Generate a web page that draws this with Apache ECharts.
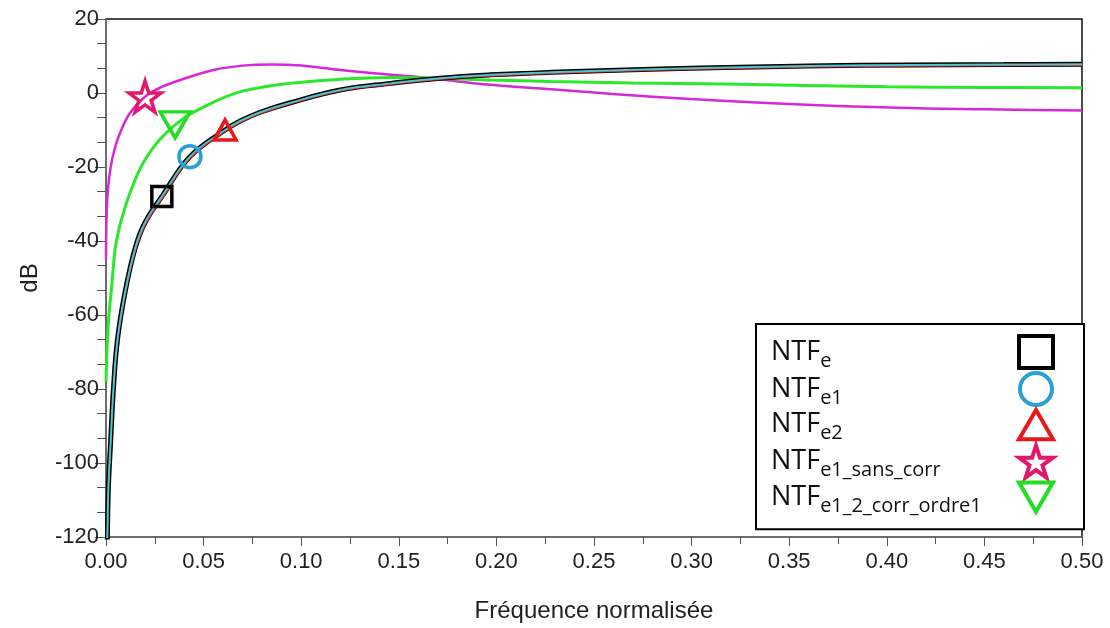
<!DOCTYPE html>
<html><head><meta charset="utf-8">
<script src="https://cdn.jsdelivr.net/npm/echarts@6/dist/echarts.min.js"></script>
<style>html,body{margin:0;padding:0;background:#fff}#c{width:1110px;height:628px}</style>
</head><body><div id="c"></div>
<script>
// ---- data ----
var xTickLabels = ['0.00','0.05','0.10','0.15','0.20','0.25','0.30','0.35','0.40','0.45','0.50'];
var yTickLabels = ['-120','-100','-80','-60','-40','-20','0','20'];

var freqE = [0, 0.0007, 0.0012, 0.0024, 0.0038, 0.0058, 0.0097, 0.0149, 0.020, 0.0286, 0.043, 0.061, 0.069, 0.079, 0.094, 0.12, 0.146, 0.171, 0.197, 0.228, 0.27, 0.317, 0.36, 0.412, 0.46, 0.5];
var dbE   = [-135, -120, -107, -94, -80, -67, -54, -42, -35, -28, -17.2, -10, -7.5, -5.2, -2.7, 0.8, 2.6, 4.0, 4.9, 5.6, 6.3, 6.9, 7.3, 7.6, 7.7, 7.8];
var dbE1  = [-135, -120, -107, -94, -80, -67, -54, -42, -35, -28, -17.2, -10, -7.5, -5.2, -2.7, 0.8, 2.6, 4.0, 4.9, 5.6, 6.3, 6.9, 7.3, 7.6, 7.7, 7.8];
var dbE2  = [-136, -121, -108, -95, -81, -68, -55, -43, -35.8, -28.7, -17.7, -10.4, -7.9, -5.6, -3.0, 0.5, 2.3, 3.7, 4.6, 5.3, 6.0, 6.6, 7.0, 7.3, 7.4, 7.5];

var freqS = [0, 0.0003, 0.001, 0.0024, 0.0045, 0.0072, 0.0123, 0.020, 0.028, 0.038, 0.055, 0.070, 0.085, 0.100, 0.120, 0.146, 0.159, 0.171, 0.197, 0.228, 0.28, 0.35, 0.405, 0.45, 0.5];
var dbS   = [-45, -33, -26, -20, -15, -10.8, -5.4, -1.0, 1.5, 3.5, 6.2, 7.4, 7.7, 7.4, 6.2, 4.9, 4.4, 3.7, 2.2, 1.0, -1.0, -3.0, -4.0, -4.4, -4.7];

var freqC = [0, 0.0007, 0.0015, 0.0026, 0.0046, 0.0055, 0.0075, 0.013, 0.021, 0.0354, 0.053, 0.070, 0.094, 0.12, 0.146, 0.171, 0.197, 0.228, 0.27, 0.317, 0.4, 0.45, 0.5];
var dbC   = [-78, -67, -60, -54, -42.4, -39.7, -35, -26, -17.2, -8.6, -3.0, 0.5, 2.6, 3.7, 4.2, 4.0, 3.5, 3.1, 2.7, 2.4, 1.7, 1.5, 1.4];

var markE  = [0.0286, -28];
var markE1 = [0.043, -17.2];
var markE2 = [0.061, -10];
var markS  = [0.020, -1.0];
var markC  = [0.0354, -8.6];

var seriesNames = ['NTF_e', 'NTF_e1', 'NTF_e2', 'NTF_e1_sans_corr', 'NTF_e1_2_corr_ordre1'];
var legendSubs  = ['e', 'e1', 'e2', 'e1_sans_corr', 'e1_2_corr_ordre1'];

// ---- styling ----
var STAR = 'path://M50,0 L61.2,34.5 L97.6,34.5 L68.2,55.9 L79.4,90.5 L50,69.1 L20.6,90.5 L31.8,55.9 L2.4,34.5 L38.8,34.5 Z';
var TRI_DOWN = 'path://M0,0 L100,0 L50,86 Z';
var TRI_UP = 'path://M50,0 L100,86 L0,86 Z';
var FONT = 'Liberation Sans';

function pairs(fx, fy) { return fx.map(function (x, i) { return [x, fy[i]]; }); }

function mp(pt, symbol, size, color) {
  return {
    symbol: symbol, symbolSize: size, silent: true,
    label: { show: false },
    itemStyle: { color: 'rgba(0,0,0,0)', borderColor: color, borderWidth: 3.5 },
    data: [{ coord: pt }], animation: false
  };
}

function lineSeries(name, data, color, width, mark) {
  return {
    name: name, type: 'line', data: data, showSymbol: false, symbol: 'none',
    smooth: 0.4, clip: true,
    lineStyle: { color: color, width: width }, itemStyle: { color: color },
    markPoint: mark, animation: false
  };
}

var chart = echarts.init(document.getElementById('c'), null, { renderer: 'canvas' });
chart.setOption({
  animation: false,
  backgroundColor: '#fff',
  grid: { left: 106, right: 28, top: 19, bottom: 91, show: true, borderColor: '#111', borderWidth: 1.5, backgroundColor: 'transparent' },
  xAxis: {
    type: 'value', min: 0, max: 0.5, interval: 0.05,
    axisLine: { show: true, onZero: false, lineStyle: { color: '#777', width: 1.5 } },
    axisTick: { show: true, length: 9, lineStyle: { color: '#555', width: 1 } },
    minorTick: { show: true, splitNumber: 2, length: 7, lineStyle: { color: '#555', width: 1 } },
    splitLine: { show: false },
    axisLabel: { formatter: function (v) { return xTickLabels[Math.round(v / 0.05)]; }, fontSize: 22, color: '#222', fontFamily: FONT, margin: 14 },
    name: 'Fréquence normalisée', nameLocation: 'middle', nameGap: 62,
    nameTextStyle: { fontSize: 24, color: '#222', fontFamily: FONT }
  },
  yAxis: {
    type: 'value', min: -120, max: 20, interval: 20,
    axisLine: { show: true, onZero: false, lineStyle: { color: '#777', width: 1.5 } },
    axisTick: { show: true, length: 11, lineStyle: { color: '#555', width: 1 } },
    minorTick: { show: true, splitNumber: 3, length: 9, lineStyle: { color: '#555', width: 1 } },
    splitLine: { show: false },
    axisLabel: { formatter: function (v) { return yTickLabels[Math.round((v + 120) / 20)]; }, fontSize: 22, color: '#222', fontFamily: FONT, margin: 7 },
    name: 'dB', nameLocation: 'middle', nameGap: 64,
    nameTextStyle: { fontSize: 24, color: '#222', fontFamily: FONT }
  },
  legend: {
    orient: 'vertical', left: 756, top: 324, align: 'right',
    padding: [10, 29, 13, 15], backgroundColor: '#fff', borderColor: '#000', borderWidth: 2, borderRadius: 0,
    itemWidth: 34, itemHeight: 32, itemGap: 0, selectedMode: false,
    data: [
      { name: seriesNames[0], icon: 'rect', itemStyle: { color: 'rgba(0,0,0,0)', borderColor: '#000', borderWidth: 4 } },
      { name: seriesNames[1], icon: 'circle', itemStyle: { color: 'rgba(0,0,0,0)', borderColor: '#2a9fd8', borderWidth: 4 } },
      { name: seriesNames[2], icon: TRI_UP, itemStyle: { color: 'rgba(0,0,0,0)', borderColor: '#e81818', borderWidth: 4 } },
      { name: seriesNames[3], icon: STAR, itemStyle: { color: 'rgba(0,0,0,0)', borderColor: '#e5176b', borderWidth: 4 } },
      { name: seriesNames[4], icon: TRI_DOWN, itemStyle: { color: 'rgba(0,0,0,0)', borderColor: '#22dd22', borderWidth: 4 } }
    ],
    formatter: function (name) { return '{m|NTF}{s|' + legendSubs[seriesNames.indexOf(name)] + '}'; },
    textStyle: {
      width: 243, color: '#111', fontFamily: 'Open Sans',
      rich: {
        m: { fontSize: 27, lineHeight: 38, align: 'left', fontFamily: 'Open Sans', color: '#111' },
        s: { fontSize: 20, lineHeight: 13, verticalAlign: 'bottom', align: 'left', fontFamily: 'Open Sans', color: '#111' }
      }
    }
  },
  series: [
    lineSeries(seriesNames[3], pairs(freqS, dbS), '#d628d6', 2.5, mp(markS, STAR, [32, 31], '#e5176b')),
    lineSeries(seriesNames[4], pairs(freqC, dbC), '#2ce82c', 3, mp(markC, TRI_DOWN, [30, 26], '#22dd22')),
    lineSeries(seriesNames[0], pairs(freqE, dbE), '#000000', 5, mp(markE, 'rect', [20, 20], '#000')),
    lineSeries(seriesNames[2], pairs(freqE, dbE2), '#e8201c', 1.3, mp(markE2, TRI_UP, [22, 20], '#e81818')),
    lineSeries(seriesNames[1], pairs(freqE, dbE1), '#44c8d4', 2, mp(markE1, 'circle', [22, 22], '#2a9fd8'))
  ]
});
</script></body></html>
